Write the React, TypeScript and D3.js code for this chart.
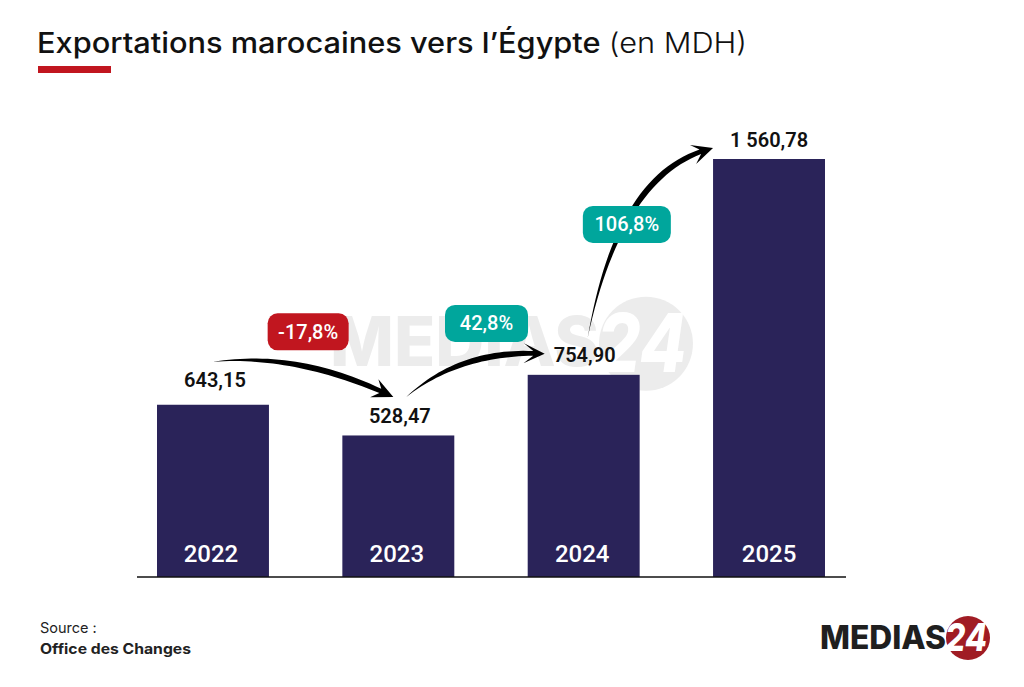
import React from 'react';
import * as d3 from 'd3';

const years = ['2022', '2023', '2024', '2025'];
const values = [643.15, 528.47, 754.9, 1560.78];
const valueLabels = ['643,15', '528,47', '754,90', '1 560,78'];
const changes = ['-17,8%', '42,8%', '106,8%'];
const changeColors = ['#c1161f', '#00a69c', '#00a69c'];

const W = 1024;
const H = 687;
const BASE = 577;
const BAR_COLOR = '#2a2359';
const LABEL_FONT = 'Roboto, sans-serif';
const TITLE_FONT = 'Inter, sans-serif';

const x = d3.scaleBand<string>().domain(years).range([157, 825]).paddingInner(0.396).paddingOuter(0);
const y = d3.scaleLinear().domain([0, 1560.78]).range([BASE, 159]);
const cx = (i: number) => (x(years[i]) ?? 0) + x.bandwidth() / 2;

// label nudges, the values don't sit at a constant distance from the bars
const labelDx = [2, 1.5, 1, 0];
const labelDy = [-18, -12.5, -13, -12];
const yearDx = [-2, -1.5, -1.5, 0];

// offsets from the bar tops and from the middle of each chord
const arrows = [
  { from: 0, to: 1, tail: [0, -43], tip: [-5, -38.5], bend: [-3, -27.5], width: 6 },
  { from: 1, to: 2, tail: [8, -38.5], tip: [-39, -21], bend: [-13.5, -26.5], width: 6 },
  { from: 2, to: 3, tail: [4, -37], tip: [-56, -11], bend: [-30.5, -73], width: 6 },
];

// pills sit relative to the chord of the arrow they describe
const pills = [
  { w: 81, h: 37, dx: 5, dy: -47.5 },
  { w: 83, h: 37, dx: 11, dy: -52 },
  { w: 88, h: 37, dx: -23.5, dy: -18.5 },
];

const line = d3.line();

function arrowGeometry(a: typeof arrows[number]) {
  const p0: [number, number] = [cx(a.from) + a.tail[0], y(values[a.from]) + a.tail[1]];
  const p2: [number, number] = [cx(a.to) + a.tip[0], y(values[a.to]) + a.tip[1]];
  const mid = [(p0[0] + p2[0]) / 2, (p0[1] + p2[1]) / 2];
  const c = [mid[0] + a.bend[0], mid[1] + a.bend[1]];
  return { p0, p2, mid, c };
}

function arrowPath(a: typeof arrows[number]) {
  const { p0, p2, c } = arrowGeometry(a);
  const at = (t: number) => [
    (1 - t) ** 2 * p0[0] + 2 * t * (1 - t) * c[0] + t * t * p2[0],
    (1 - t) ** 2 * p0[1] + 2 * t * (1 - t) * c[1] + t * t * p2[1],
  ];
  const endT = 0.93;
  const left: [number, number][] = [];
  const right: [number, number][] = [];
  d3.range(0, 31).forEach((k) => {
    const t = (k / 30) * endT;
    const [px, py] = at(t);
    const dx = 2 * (1 - t) * (c[0] - p0[0]) + 2 * t * (p2[0] - c[0]);
    const dy = 2 * (1 - t) * (c[1] - p0[1]) + 2 * t * (p2[1] - c[1]);
    const len = Math.hypot(dx, dy);
    // swells to its widest about two thirds of the way along
    const half = (a.width / 2) * Math.sin(Math.PI * t * 0.77);
    left.push([px - (dy / len) * half, py + (dx / len) * half]);
    right.push([px + (dy / len) * half, py - (dx / len) * half]);
  });
  // head
  const ang = Math.atan2(p2[1] - at(0.9)[1], p2[0] - at(0.9)[0]);
  const ux = Math.cos(ang);
  const uy = Math.sin(ang);
  const back = (d: number, s: number): [number, number] => [
    p2[0] - ux * d - uy * s,
    p2[1] - uy * d + ux * s,
  ];
  const shape = [...left, back(21, 10), p2, back(21, -10), ...right.reverse()];
  return line(shape) + 'Z';
}

function Logo({ tx, ty, s, text, circle, knock }: { tx: number; ty: number; s: number; text: string; circle: string; knock: string }) {
  return (
    <g transform={`translate(${tx},${ty}) scale(${s})`}>
      <circle cx={148} cy={13} r={22} fill={circle} />
      <text x={0} y={23.5} fontFamily="Inter, sans-serif" fontWeight={800} fontSize={32} fill={text} textLength={126} lengthAdjust="spacingAndGlyphs">MEDIAS</text>
      <text x={146} y={26} textAnchor="middle" fontFamily="Inter, sans-serif" fontWeight={800} fontStyle="italic" fontSize={38} fill={knock} textLength={42} lengthAdjust="spacingAndGlyphs">24</text>
    </g>
  );
}

export default function App() {
  return (
    <svg width={W} height={H} viewBox={`0 0 ${W} ${H}`} style={{ position: 'absolute', left: 0, top: 0, background: '#fff' }}>
      <text x={37} y={53} fontFamily={TITLE_FONT} fontSize={28} fill="#111" textLength={710} lengthAdjust="spacingAndGlyphs">
        <tspan fontWeight={500}>Exportations marocaines vers l’Égypte </tspan>
        <tspan fontWeight={300}>(en MDH)</tspan>
      </text>
      <rect x={38} y={66} width={73} height={7} fill="#c1161f" />

      <Logo tx={330} ty={316} s={2.135} text="#ececec" circle="#ececec" knock="#fff" />

      {years.map((yr, i) => (
        <rect key={yr} x={x(yr)} y={y(values[i])} width={x.bandwidth()} height={BASE - y(values[i])} fill={BAR_COLOR} />
      ))}
      <line x1={137} x2={846} y1={BASE} y2={BASE} stroke="#111" strokeWidth={1.5} />

      {years.map((yr, i) => (
        <text key={yr} x={cx(i) + yearDx[i]} y={562} textAnchor="middle" fontFamily={LABEL_FONT} fontWeight={500} fontSize={24} fill="#fff">{yr}</text>
      ))}

      {arrows.map((a) => (
        <path key={a.from} d={arrowPath(a)} fill="#000" />
      ))}

      {pills.map((p, i) => {
        const { mid } = arrowGeometry(arrows[i]);
        const left = mid[0] + p.dx - p.w / 2;
        const top = mid[1] + p.dy - p.h / 2;
        return (
          <g key={changes[i]}>
            <rect x={left} y={top} width={p.w} height={p.h} rx={10} fill={changeColors[i]} />
            <text x={left + p.w / 2} y={top + p.h / 2 + 7} textAnchor="middle" fontFamily={LABEL_FONT} fontWeight={500} fontSize={20} fill="#fff">{changes[i]}</text>
          </g>
        );
      })}

      {valueLabels.map((v, i) => (
        <text key={v} x={cx(i) + labelDx[i]} y={y(values[i]) + labelDy[i]} textAnchor="middle" fontFamily={LABEL_FONT} fontWeight={600} fontSize={20} fill="#111">{v}</text>
      ))}

      <text x={40} y={633} fontFamily={TITLE_FONT} fontSize={14.5} fill="#222">Source :</text>
      <text x={40} y={654} fontFamily={TITLE_FONT} fontWeight={700} fontSize={14.5} fill="#222" textLength={151} lengthAdjust="spacingAndGlyphs">Office des Changes</text>

      <Logo tx={820} ty={625} s={1} text="#1f1f1f" circle="#a01c24" knock="#fff" />
    </svg>
  );
}
